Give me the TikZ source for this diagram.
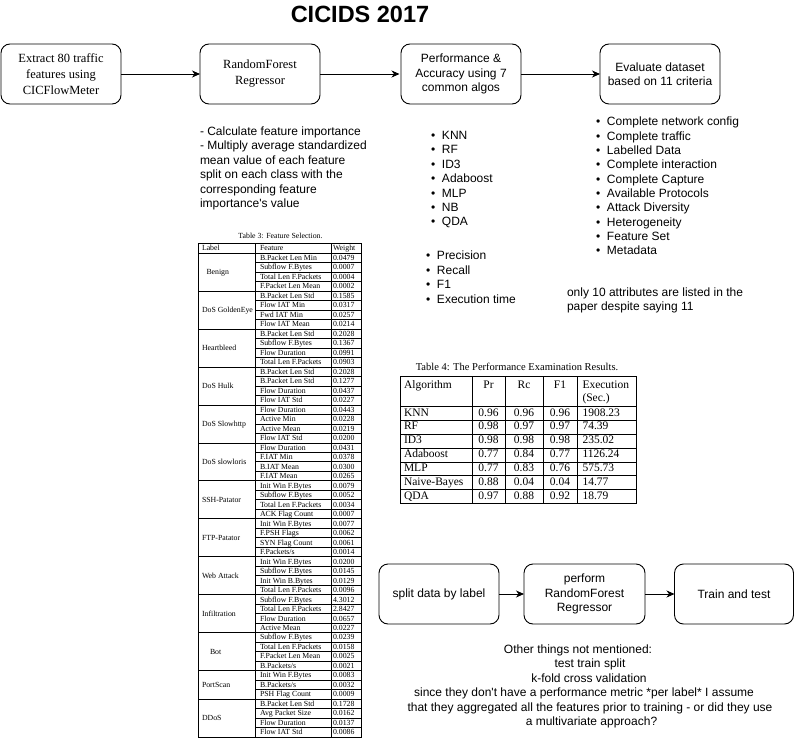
\documentclass[tikz,border=0pt]{standalone}
\usepackage{fontspec}
\setmainfont{Liberation Sans}[Ligatures=TeXOff]
\newfontfamily\tms{Liberation Serif}
\usetikzlibrary{arrows.meta}
\newcommand\bulletmk{\makebox[11pt][l]{•}}
\begin{document}
\begin{tikzpicture}[x=1pt,y=-1pt,
  every node/.style={inner sep=0pt, outer sep=0pt},
  box/.style={draw, rounded corners=9pt, line width=0.9pt, minimum width=120pt, minimum height=60pt, align=center, inner sep=2pt, font=\fontsize{12}{14.4}\selectfont},
  sbox/.style={box, font=\tms\fontsize{12.5}{16}\selectfont},
  arr/.style={line width=0.9pt, -{Stealth[length=8pt,width=7pt,inset=2.5pt]}},
  txt/.style={anchor=mid west, font=\fontsize{12}{14.4}\selectfont},
  ctxt/.style={anchor=mid, font=\fontsize{12}{14.4}\selectfont},
  tthree/.style={anchor=mid west, font=\tms\fontsize{7.8}{9}\selectfont},
  tfour/.style={anchor=mid west, font=\tms\fontsize{11.5}{13}\selectfont},
  tfourc/.style={tfour, anchor=mid},
  tline/.style={line width=0.6pt}
]
\useasboundingbox (0,0) rectangle (795,746);

% title
\node[font=\bfseries\fontsize{23.5}{28}\selectfont] (title) at (360,14) {CICIDS 2017};

% top row
\node[sbox] (b1) at (61,74) {Extract 80 traffic\\features using\\CICFlowMeter};
\node[sbox] (b2) at (260,74) {RandomForest\\Regressor};
\node[box] (b3) at (461,74) {Performance \&\\Accuracy using 7\\common algos};
\node[box] (b4) at (660,74) {Evaluate dataset\\based on 11 criteria};
\coordinate (b2end) at (399.5,74);
\draw[arr] (b1) -- (b2);
\draw[arr] (b2) -- (b2end);
\draw[arr] (b3) -- (b4);

% notes below RandomForest
\foreach \t [count=\i from 0] in {- Calculate feature importance,- Multiply average standardized,mean value of each feature,split on each class with the,corresponding feature,importance's value}
  \node[txt] (rfnote\i) at (200,{132.5+14.55*\i}) {\t};

% algorithm list
\foreach \t [count=\i from 0] in {KNN,RF,ID3,Adaboost,MLP,NB,QDA}
  \node[txt] (alg\i) at (431,{137+14.35*\i}) {\bulletmk\t};
\foreach \t [count=\i from 0] in {Precision,Recall,F1,Execution time}
  \node[txt] (met\i) at (426,{257.2+14.4*\i}) {\bulletmk\t};

% criteria list
\foreach \t [count=\i from 0] in {Complete network config,Complete traffic,Labelled Data,Complete interaction,Complete Capture,Available Protocols,Attack Diversity,Heterogeneity,Feature Set,Metadata}
  \node[txt] (crit\i) at (596,{123.2+14.33*\i}) {\bulletmk\t};
\node[txt] (only1) at (567,293.8) {only 10 attributes are listed in the};
\node[txt] (only2) at (567,307.8) {paper despite saying 11};

% ---------------- Table 3 ----------------
\node[anchor=mid, font=\tms\fontsize{7.8}{9}\selectfont] (cap3) at (280.5,236) {Table 3: Feature Selection.};
\draw[tline] (198,243) rectangle (361,737);
\draw[tline] (198,253) -- (361,253);
\draw[tline] (255,243) -- (255,737);
\draw[tline] (331,243) -- (331,737);
\node[tthree] (h3a) at (202,248) {Label};
\node[tthree] (h3b) at (260,248) {Feature};
\node[tthree] (h3c) at (333,248) {Weight};
\foreach \f/\w [count=\i from 0] in {
  B.Packet Len Min/0.0479, Subflow F.Bytes/0.0007, Total Len F.Packets/0.0004, F.Packet Len Mean/0.0002,
  B.Packet Len Std/0.1585, Flow IAT Min/0.0317, Fwd IAT Min/0.0257, Flow IAT Mean/0.0214,
  B.Packet Len Std/0.2028, Subflow F.Bytes/0.1367, Flow Duration/0.0991, Total Len F.Packets/0.0903,
  B.Packet Len Std/0.2028, B.Packet Len Std/0.1277, Flow Duration/0.0437, Flow IAT Std/0.0227,
  Flow Duration/0.0443, Active Min/0.0228, Active Mean/0.0219, Flow IAT Std/0.0200,
  Flow Duration/0.0431, F.IAT Min/0.0378, B.IAT Mean/0.0300, F.IAT Mean/0.0265,
  Init Win F.Bytes/0.0079, Subflow F.Bytes/0.0052, Total Len F.Packets/0.0034, ACK Flag Count/0.0007,
  Init Win F.Bytes/0.0077, F.PSH Flags/0.0062, SYN Flag Count/0.0061, {F.Packets/s}/0.0014,
  Init Win F.Bytes/0.0200, Subflow F.Bytes/0.0145, Init Win B.Bytes/0.0129, Total Len F.Packets/0.0096,
  Subflow F.Bytes/4.3012, Total Len F.Packets/2.8427, Flow Duration/0.0657, Active Mean/0.0227,
  Subflow F.Bytes/0.0239, Total Len F.Packets/0.0158, F.Packet Len Mean/0.0025, {B.Packets/s}/0.0021,
  Init Win F.Bytes/0.0083, {B.Packets/s}/0.0032, PSH Flag Count/0.0009,
  B.Packet Len Std/0.1728, Avg Packet Size/0.0162, Flow Duration/0.0137, Flow IAT Std/0.0086}
{
  \node[tthree] (feat\i) at (260,{253+(\i+0.5)*9.49}) {\f};
  \node[tthree] (wt\i) at (333,{253+(\i+0.5)*9.49}) {\w};
  \draw[tline] (255,{253+(\i+1)*9.49}) -- (361,{253+(\i+1)*9.49});
}
\foreach \a/\b/\x/\l [count=\k] in {0/4/206.5/Benign, 4/8/202/DoS GoldenEye, 8/12/202/Heartbleed, 12/16/202/DoS Hulk, 16/20/202/DoS Slowhttp, 20/24/202/DoS slowloris, 24/28/202/SSH-Patator, 28/32/202/FTP-Patator, 32/36/202/Web Attack, 36/40/202/Infiltration, 40/44/210/Bot, 44/47/202/PortScan, 47/51/202/DDoS}
{
  \node[tthree] (lab\k) at (\x,{253+(\a+\b)/2*9.49}) {\l};
  \draw[tline] (198,{253+\b*9.49}) -- (255,{253+\b*9.49});
}

% ---------------- Table 4 ----------------
\node[anchor=mid, font=\tms\fontsize{10.5}{12}\selectfont] (cap4) at (517,368) {Table 4: The Performance Examination Results.};
\draw[tline] (400,376) rectangle (636,503.5);
\foreach \x in {472,505,543,577} \draw[tline] (\x,376) -- (\x,503.5);
\node[tfour] (h4a) at (404,386) {Algorithm};
\node[tfourc] (h4b) at (488.5,386) {Pr};
\node[tfourc] (h4c) at (524,386) {Rc};
\node[tfourc] (h4d) at (560,386) {F1};
\node[tfour] (h4e) at (582.5,386) {Execution};
\node[tfour] (h4f) at (582.5,399) {(Sec.)};
\draw[tline] (400,406.5) -- (636,406.5);
\foreach \al/\p/\r/\f/\e [count=\i from 0] in {KNN/0.96/0.96/0.96/1908.23, RF/0.98/0.97/0.97/74.39, ID3/0.98/0.98/0.98/235.02, Adaboost/0.77/0.84/0.77/1126.24, MLP/0.77/0.83/0.76/575.73, Naive-Bayes/0.88/0.04/0.04/14.77, QDA/0.97/0.88/0.92/18.79}
{
  \node[tfour] (alg4\i) at (404,{406.5+(\i+0.5)*13.85}) {\al};
  \node[tfourc] (pr\i) at (488.5,{406.5+(\i+0.5)*13.85}) {\p};
  \node[tfourc] (rc\i) at (524,{406.5+(\i+0.5)*13.85}) {\r};
  \node[tfourc] (fo\i) at (560,{406.5+(\i+0.5)*13.85}) {\f};
  \node[tfour] (ex\i) at (582.5,{406.5+(\i+0.5)*13.85}) {\e};
  \draw[tline] (400,{406.5+(\i+1)*13.85}) -- (636,{406.5+(\i+1)*13.85});
}

% bottom row
\node[box] (c1) at (439,594) {split data by label};
\node[box, minimum width=121pt] (c2) at (584.5,594) {perform\\RandomForest\\Regressor};
\node[box, minimum width=119pt] (c3) at (734,594) {Train and test};
\draw[arr] (c1) -- (c2);
\draw[arr] (c2) -- (c3);

% bottom note
\node[ctxt] (n1) at (578,650.8) {Other things not mentioned:};
\node[ctxt] (n2) at (590,665.3) {test train split};
\node[ctxt] (n3) at (589,679.6) {k-fold cross validation};
\node[ctxt] (n4) at (584,694.3) {since they don't have a performance metric *per label* I assume};
\node[ctxt] (n5) at (590,708.6) {that they aggregated all the features prior to training - or did they use};
\node[ctxt] (n6) at (591.5,723) {a multivariate approach?};
\end{tikzpicture}
\end{document}
